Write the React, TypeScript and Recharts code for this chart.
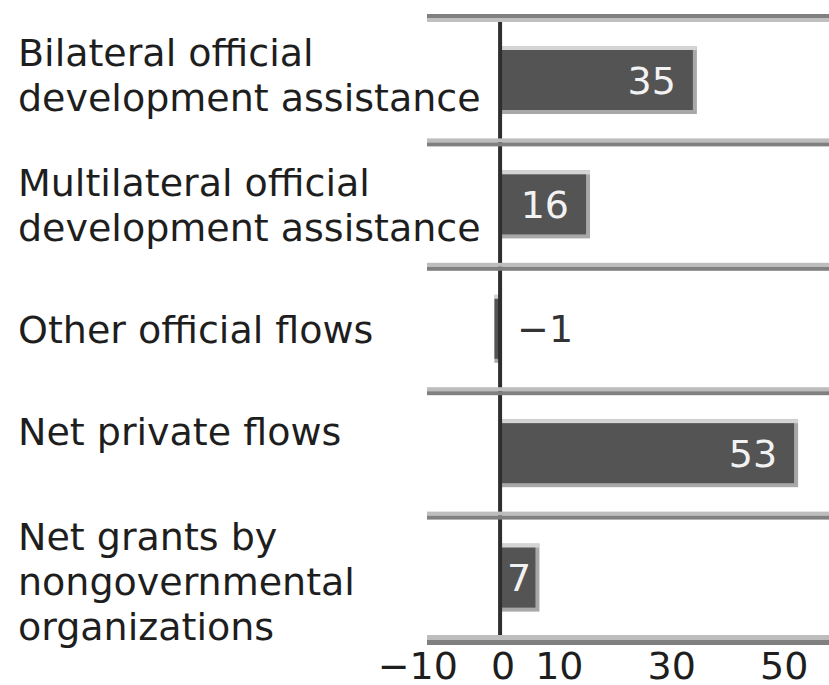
import React from 'react';
import { BarChart, Bar, XAxis, YAxis, ReferenceLine, LabelList } from 'recharts';

// flows, shares in percent
const categories = [
    'Bilateral official development assistance',
    'Multilateral official development assistance',
    'Other official flows',
    'Net private flows',
    'Net grants by nongovernmental organizations',
];
const labelLines = [
    ['Bilateral official', 'development assistance'],
    ['Multilateral official', 'development assistance'],
    ['Other official flows'],
    ['Net private flows'],
    ['Net grants by', 'nongovernmental', 'organizations'],
];
const values = [35, 16, -1, 53, 7];
const xTicks = [-10, 0, 10, 30, 50];

const data = categories.map((name, i) => ({ name, value: values[i] }));

const W = 829;
const H = 685;
const PLOT_LEFT = 427;
const FONT = '"DejaVu Sans", Verdana, sans-serif';
const labelShift = [-5, 0, 0, -22, 4];

const fmt = (v: number) => String(v).replace('-', '\u2212');

const YTick = (props: any) => {
    const { y, payload, index } = props;
    const half = payload && payload.offset ? payload.offset : 62.2;
    const lines = labelLines[index] || [];
    const n = lines.length;
    const top = y - half;
    const bottom = y + half;
    const lw = W - PLOT_LEFT;
    return (
        <g>
            {index === 0 ? (
                <g>
                    <rect x={PLOT_LEFT} y={top - 4} width={lw} height={4} fill="#808080" />
                    <rect x={PLOT_LEFT} y={top} width={lw} height={4} fill="#c0c0c0" />
                </g>
            ) : (
                <g>
                    <rect x={PLOT_LEFT} y={top - 4} width={lw} height={4} fill="#bdbdbd" />
                    <rect x={PLOT_LEFT} y={top} width={lw} height={4} fill="#808080" />
                </g>
            )}
            {index === categories.length - 1 && (
                <g>
                    <rect x={PLOT_LEFT} y={bottom - 5} width={lw} height={5} fill="#bdbdbd" />
                    <rect x={PLOT_LEFT} y={bottom} width={lw} height={5} fill="#808080" />
                </g>
            )}
            {lines.map((line, k) => (
                <text
                    key={k}
                    x={18}
                    y={y + 13.5 + (k - (n - 1) / 2) * 45 + (labelShift[index] || 0)}
                    textAnchor="start"
                    fontFamily={FONT}
                    fontSize={38}
                    fill="#1e1e1e"
                >
                    {line}
                </text>
            ))}
        </g>
    );
};

const XTick = (props: any) => {
    const { x, y, payload } = props;
    const v = payload.value;
    return (
        <text x={x + (v < 0 ? -26 : 3)} y={y + 39} textAnchor="middle" fontFamily={FONT} fontSize={38} fill="#1e1e1e">
            {fmt(v)}
        </text>
    );
};

const BarShape = (props: any) => {
    const { x, y, width, height, payload } = props;
    const left = Math.min(x, x + width);
    const w = Math.abs(width);
    const neg = payload && payload.value < 0;
    return (
        <g>
            <rect x={left} y={y} width={w} height={height} fill="#a8a8a8" />
            <rect x={left} y={y} width={w} height={4} fill="#d4d4d4" />
            <rect x={left} y={y + 4} width={neg ? w : Math.max(w - 4, 0)} height={height - 8} fill="#545454" />
        </g>
    );
};

const ValueLabel = (props: any) => {
    const vb = props.viewBox || {};
    const x = props.x ?? vb.x;
    const y = props.y ?? vb.y;
    const width = props.width ?? vb.width;
    const height = props.height ?? vb.height;
    const v = Number(props.value);
    const left = Math.min(x, x + width);
    const right = Math.max(x, x + width);
    const base = y + height / 2 + 13.5;
    if (v < 0) {
        return (
            <text x={right + 17} y={base} textAnchor="start" fontFamily={FONT} fontSize={38} fill="#333">
                {fmt(v)}
            </text>
        );
    }
    const tw = String(v).length * 24.2;
    return (
        <text x={Math.max(left + 7 + tw, right - 21)} y={base} textAnchor="end" fontFamily={FONT} fontSize={38} fill="#f2f2f2">
            {fmt(v)}
        </text>
    );
};

const App = () => {
    return (
        <div style={{ position: 'absolute', left: 0, top: 0, width: W, height: H, background: '#fff' }}>
            <BarChart
                layout="vertical"
                width={W}
                height={H}
                data={data}
                margin={{ top: 18, right: 0, bottom: 0, left: 0 }}
                barSize={68}
            >
                <XAxis
                    type="number"
                    domain={[-13, 58.5]}
                    ticks={xTicks}
                    allowDataOverflow
                    interval={0}
                    axisLine={false}
                    tickLine={false}
                    tickSize={0}
                    tickMargin={0}
                    height={45}
                    tick={XTick}
                />
                <YAxis
                    type="category"
                    dataKey="name"
                    width={PLOT_LEFT}
                    interval={0}
                    axisLine={false}
                    tickLine={false}
                    tick={YTick}
                />
                <Bar dataKey="value" isAnimationActive={false} shape={BarShape}>
                    <LabelList dataKey="value" content={ValueLabel} />
                </Bar>
                <ReferenceLine x={0} stroke="#2e2e2e" strokeWidth={4} />
            </BarChart>
        </div>
    );
};

export default App;
